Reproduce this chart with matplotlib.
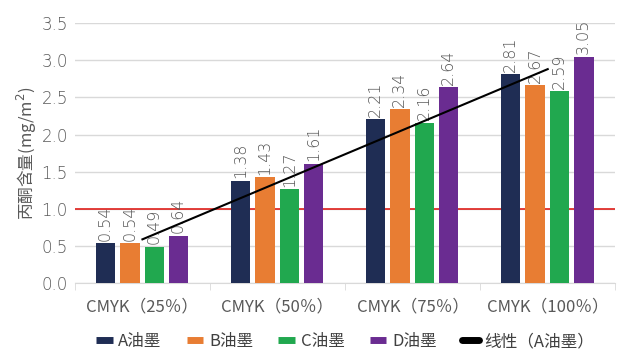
import numpy as np
import matplotlib
matplotlib.use('Agg')
import matplotlib.pyplot as plt
from matplotlib.lines import Line2D

plt.rcParams['font.family'] = ['Noto Sans CJK SC', 'DejaVu Sans']

categories = ['CMYK（25％）', 'CMYK（50％）', 'CMYK（75％）', 'CMYK（100％）']
series_names = ['A油墨', 'B油墨', 'C油墨', 'D油墨']
a_vals = [0.54, 1.38, 2.21, 2.81]
b_vals = [0.54, 1.43, 2.34, 2.67]
c_vals = [0.49, 1.27, 2.16, 2.59]
d_vals = [0.64, 1.61, 2.64, 3.05]
limit_value = 1.0
trend_name = '线性（A油墨）'
y_label = '丙酮含量(mg/m$^2$)'

colors = ['#1f2d54', '#e87d33', '#21a84f', '#6a2c91']
text_color = '#595959'
num_font = dict(family='DejaVu Sans', weight='light')

fig = plt.figure(figsize=(6.24, 3.62), dpi=100, facecolor='w')
ax = fig.add_axes([0.12, 0.218, 0.866, 0.718])

x = np.arange(len(categories))
offsets = [-0.274, -0.094, 0.088, 0.267]
width = 0.145
for vals, name, col, off in zip([a_vals, b_vals, c_vals, d_vals], series_names, colors, offsets):
    ax.bar(x + off, vals, width, color=col, zorder=3)
    for xi, v in zip(x + off, vals):
        ax.text(xi, v + 0.03, '%.2f' % v, rotation=90, ha='center', va='bottom',
                fontsize=11.5, color=text_color, zorder=4, **num_font)

# linear trend of A series
k, b = np.polyfit(x + 1, a_vals, 1)
ax.plot(x, k * (x + 1) + b, color='black', lw=1.5, zorder=5)

ax.axhline(limit_value, color='#e0201b', lw=1.2, zorder=2)

ax.set_xlim(-0.5, 3.5)
ax.set_ylim(0, 3.5)
yt = np.arange(0, 3.51, 0.5)
ax.set_yticks(yt)
ax.set_yticklabels(['%.1f' % t for t in yt], fontsize=12, **num_font)
ax.set_xticks(x)
ax.set_xticklabels(categories)
ax.set_xticks(np.arange(-0.5, 3.6, 1), minor=True)
ax.tick_params(axis='x', which='major', length=0, pad=11, labelsize=12, labelcolor=text_color)
ax.tick_params(axis='x', which='minor', length=5, color='#d9d9d9')
ax.tick_params(axis='y', length=0, labelcolor=text_color, pad=5)
ax.yaxis.grid(True, color='#d9d9d9', lw=1, zorder=0)
for s in ['top', 'right', 'left']:
    ax.spines[s].set_visible(False)
ax.spines['bottom'].set_color('#d9d9d9')
ax.set_ylabel(y_label, fontsize=12, color=text_color, labelpad=2)

handles = [Line2D([0], [0], color=c, lw=5, solid_capstyle='butt') for c in colors]
handles.append(Line2D([0], [0], color='black', lw=5, solid_capstyle='round'))
ax.legend(handles, series_names + [trend_name], loc='center',
          bbox_to_anchor=(0.5, -0.225), ncol=5, frameon=False,
          fontsize=12, labelcolor='#404040', handlelength=1.0,
          columnspacing=1.5, handletextpad=0.35)

fig.savefig('out.png', dpi=100, facecolor='w')
